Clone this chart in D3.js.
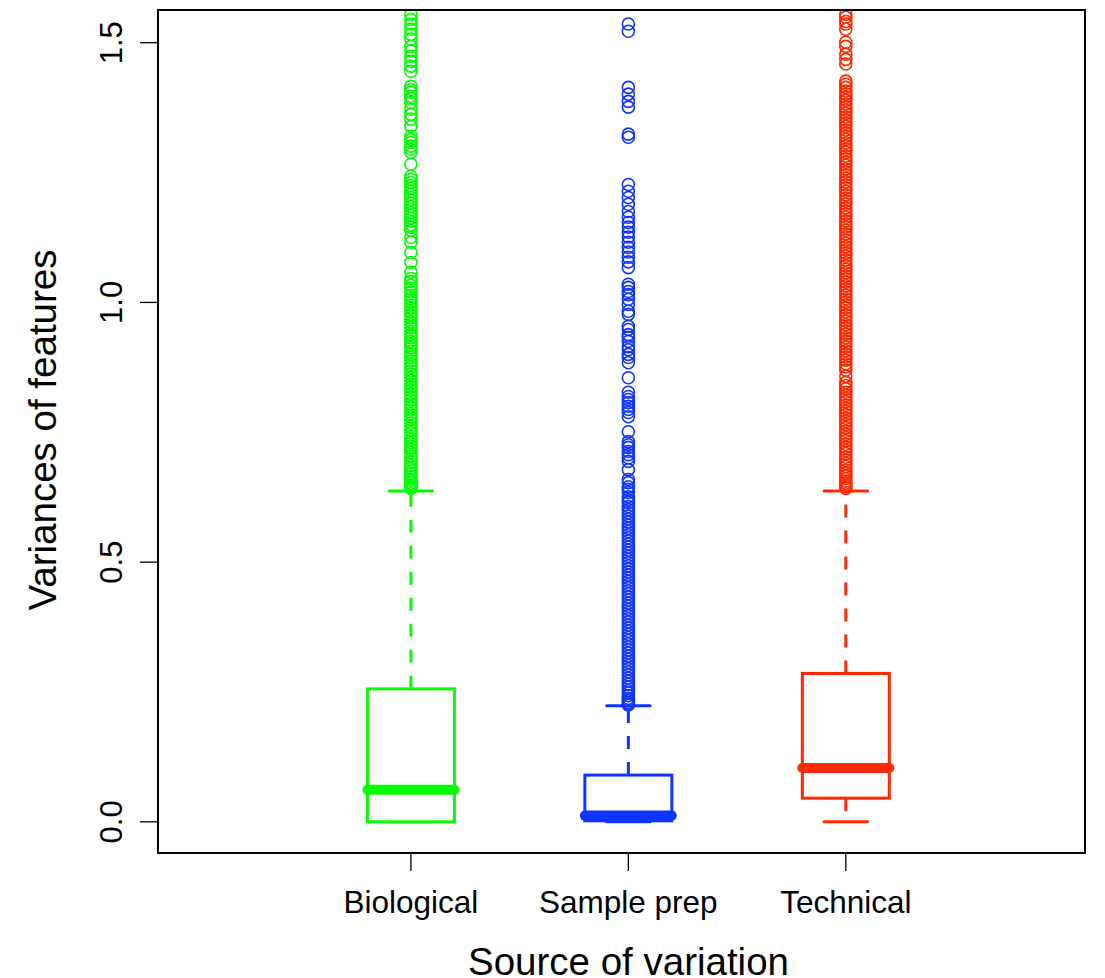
<!DOCTYPE html>
<html><head><meta charset="utf-8">
<script src="https://cdn.jsdelivr.net/npm/d3@7"></script>
<style>body{margin:0;background:#fff}svg{display:block}text{font-family:"Liberation Sans",Arial,Helvetica,sans-serif;fill:#000}</style>
</head><body><svg id="c" width="1105" height="978"></svg>
<script>
const categories = ["Biological", "Sample prep", "Technical"];
const colors = ["#00FF00", "#1034FF", "#FF2800"];
const lowerWhisker = [0.0, 0.0, 0.0];
const q1 = [0.0, 0.002, 0.0456];
const median = [0.062, 0.012, 0.1035];
const q3 = [0.256, 0.090, 0.2857];
const upperWhisker = [0.637, 0.2235, 0.637];
const yTicks = [0.0, 0.5, 1.0, 1.5];
const yTickLabels = ["0.0", "0.5", "1.0", "1.5"];

const outliersBiological = [1.58, 1.555, 1.545, 1.536, 1.526, 1.516, 1.507, 1.493, 1.484, 1.474, 1.464, 1.455, 1.445,
 1.416, 1.410, 1.405, 1.397, 1.393, 1.385, 1.372, 1.362, 1.353, 1.339, 1.320, 1.314, 1.308, 1.301, 1.295, 1.289,
 1.266, 1.243, 1.237, 1.231, 1.225, 1.220, 1.214, 1.208, 1.202, 1.197, 1.191, 1.185, 1.179, 1.173, 1.168, 1.162,
 1.156, 1.150, 1.145, 1.139, 1.125, 1.116, 1.096, 1.077, 1.058, 1.046, 1.040, 1.033, 1.027, 1.020, 1.013, 1.007,
 1.001, 0.995, 0.989, 0.982, 0.976, 0.970, 0.963, 0.957, 0.951, 0.944, 0.938, 0.932, 0.925, 0.919, 0.913, 0.906,
 0.900, 0.894, 0.887, 0.881, 0.875, 0.868, 0.862, 0.856, 0.850, 0.843, 0.837, 0.831, 0.824, 0.818, 0.812, 0.805,
 0.799, 0.793, 0.786, 0.780, 0.774, 0.768, 0.761, 0.755, 0.749, 0.742, 0.736, 0.730, 0.723, 0.717, 0.711, 0.704,
 0.698, 0.692, 0.686, 0.680, 0.675, 0.670, 0.665, 0.660, 0.656, 0.652, 0.648, 0.645, 0.642];

const outliersSamplePrep = [1.536, 1.522, 1.414, 1.401, 1.387, 1.376, 1.324, 1.318, 1.227, 1.214, 1.202, 1.189,
 1.175, 1.164, 1.154, 1.145, 1.135, 1.126, 1.116, 1.106, 1.097, 1.087, 1.078, 1.067, 1.035, 1.029, 1.021, 1.015,
 1.006, 0.996, 0.983, 0.977, 0.954, 0.948, 0.938, 0.933, 0.925, 0.915, 0.909, 0.900, 0.894, 0.884, 0.855, 0.827,
 0.819, 0.813, 0.807, 0.800, 0.794, 0.788, 0.780, 0.751, 0.732, 0.726, 0.721, 0.713, 0.707, 0.701, 0.694, 0.678,
 0.659, 0.653, 0.645, 0.640, 0.634, 0.626, 0.620, 0.615, 0.607, 0.601, 0.595, 0.589, 0.583, 0.577, 0.571, 0.565,
 0.559, 0.553, 0.547, 0.541, 0.535, 0.529, 0.523, 0.517, 0.511, 0.505, 0.499, 0.493, 0.487, 0.481, 0.475, 0.469,
 0.463, 0.457, 0.451, 0.445, 0.439, 0.433, 0.427, 0.421, 0.415, 0.409, 0.403, 0.397, 0.391, 0.385, 0.379, 0.373,
 0.367, 0.361, 0.355, 0.349, 0.343, 0.337, 0.331, 0.325, 0.319, 0.313, 0.307, 0.301, 0.295, 0.289, 0.283, 0.277,
 0.271, 0.265, 0.259, 0.253, 0.248, 0.243, 0.238, 0.234, 0.230, 0.227, 0.225];

const outliersTechnical = [1.58, 1.555, 1.549, 1.541, 1.536, 1.526, 1.501, 1.493, 1.478, 1.468, 1.459,
 1.426, 1.420, 1.414, 1.407, 1.401, 1.395, 1.389, 1.382, 1.376, 1.370, 1.364, 1.357, 1.351, 1.345, 1.339, 1.332,
 1.326, 1.320, 1.314, 1.307, 1.301, 1.295, 1.289, 1.282, 1.276, 1.270, 1.264, 1.257, 1.251, 1.245, 1.239, 1.232,
 1.226, 1.220, 1.214, 1.207, 1.201, 1.195, 1.189, 1.182, 1.176, 1.170, 1.164, 1.157, 1.151, 1.145, 1.139, 1.132,
 1.126, 1.120, 1.114, 1.107, 1.101, 1.095, 1.089, 1.082, 1.076, 1.070, 1.064, 1.057, 1.051, 1.045, 1.039, 1.032,
 1.026, 1.020, 1.014, 1.007, 1.001, 0.995, 0.989, 0.982, 0.976, 0.970, 0.964, 0.957, 0.951, 0.945, 0.939, 0.932,
 0.926, 0.920, 0.914, 0.907, 0.901, 0.895, 0.889, 0.882, 0.876, 0.870, 0.858, 0.846, 0.840, 0.834, 0.827, 0.821,
 0.815, 0.809, 0.802, 0.796, 0.790, 0.784, 0.777, 0.771, 0.765, 0.759, 0.752, 0.746, 0.740, 0.734, 0.727, 0.721,
 0.715, 0.709, 0.702, 0.696, 0.690, 0.684, 0.677, 0.671, 0.666, 0.661, 0.656, 0.652, 0.648, 0.645, 0.642];

const outliers = [outliersBiological, outliersSamplePrep, outliersTechnical];
const xLabel = "Source of variation";
const yLabel = "Variances of features";

const svg = d3.select("#c");
const plot = {left: 158, right: 1085, top: 10, bottom: 853};

const x = d3.scaleLinear().domain([-0.163, 4.1]).range([plot.left, plot.right]);
const y = d3.scaleLinear().domain([-0.06, 1.563]).range([plot.bottom, plot.top]);
const boxHalf = x(0.2) - x(0);
const capHalf = boxHalf / 2;

svg.append("defs").append("clipPath").attr("id", "clip")
  .append("rect").attr("x", plot.left).attr("y", plot.top)
  .attr("width", plot.right - plot.left).attr("height", plot.bottom - plot.top);

const g = svg.append("g").attr("clip-path", "url(#clip)");

categories.forEach((cat, i) => {
  const cx = x(i + 1), col = colors[i];
  const gg = g.append("g");
  gg.selectAll("circle").data(outliers[i]).join("circle")
    .attr("cx", cx).attr("cy", d => y(d)).attr("r", 6)
    .attr("fill", "none").attr("stroke", col).attr("stroke-width", 1.6);
  gg.append("line").attr("x1", cx).attr("x2", cx).attr("y1", y(q3[i])).attr("y2", y(upperWhisker[i]))
    .attr("stroke", col).attr("stroke-width", 3).attr("stroke-dasharray", "13,13");
  gg.append("line").attr("x1", cx).attr("x2", cx).attr("y1", y(q1[i])).attr("y2", y(lowerWhisker[i]))
    .attr("stroke", col).attr("stroke-width", 3).attr("stroke-dasharray", "13,13");
  [upperWhisker[i], lowerWhisker[i]].forEach(v => {
    gg.append("line").attr("x1", cx - capHalf).attr("x2", cx + capHalf).attr("y1", y(v)).attr("y2", y(v))
      .attr("stroke", col).attr("stroke-width", 3).attr("stroke-linecap", "round");
  });
  gg.append("rect").attr("x", cx - boxHalf).attr("y", y(q3[i]))
    .attr("width", 2 * boxHalf).attr("height", y(q1[i]) - y(q3[i]))
    .attr("fill", "white").attr("stroke", col).attr("stroke-width", 3);
  gg.append("line").attr("x1", cx - boxHalf).attr("x2", cx + boxHalf).attr("y1", y(median[i])).attr("y2", y(median[i]))
    .attr("stroke", col).attr("stroke-width", 10).attr("stroke-linecap", "round");
});

svg.append("rect").attr("x", plot.left).attr("y", plot.top)
  .attr("width", plot.right - plot.left).attr("height", plot.bottom - plot.top)
  .attr("fill", "none").attr("stroke", "#000").attr("stroke-width", 2);

const yAxis = svg.append("g");
yTicks.forEach((t, k) => {
  yAxis.append("line").attr("x1", plot.left - 18).attr("x2", plot.left).attr("y1", y(t)).attr("y2", y(t))
    .attr("stroke", "#000").attr("stroke-width", 1.3);
  yAxis.append("text").attr("transform", `translate(122,${y(t)}) rotate(-90)`)
    .attr("text-anchor", "middle").attr("font-size", 31).text(yTickLabels[k]);
});

const xAxis = svg.append("g");
categories.forEach((cat, i) => {
  xAxis.append("line").attr("x1", x(i + 1)).attr("x2", x(i + 1)).attr("y1", plot.bottom).attr("y2", plot.bottom + 18)
    .attr("stroke", "#000").attr("stroke-width", 1.3);
  xAxis.append("text").attr("x", x(i + 1)).attr("y", 913).attr("text-anchor", "middle")
    .attr("font-size", 31.5).text(cat);
});

svg.append("text").attr("x", (plot.left + plot.right) / 2 + 7).attr("y", 975).attr("text-anchor", "middle")
  .attr("font-size", 38.5).text(xLabel);
svg.append("text").attr("transform", "translate(56,430) rotate(-90)").attr("text-anchor", "middle")
  .attr("font-size", 38.5).text(yLabel);
</script></body></html>
